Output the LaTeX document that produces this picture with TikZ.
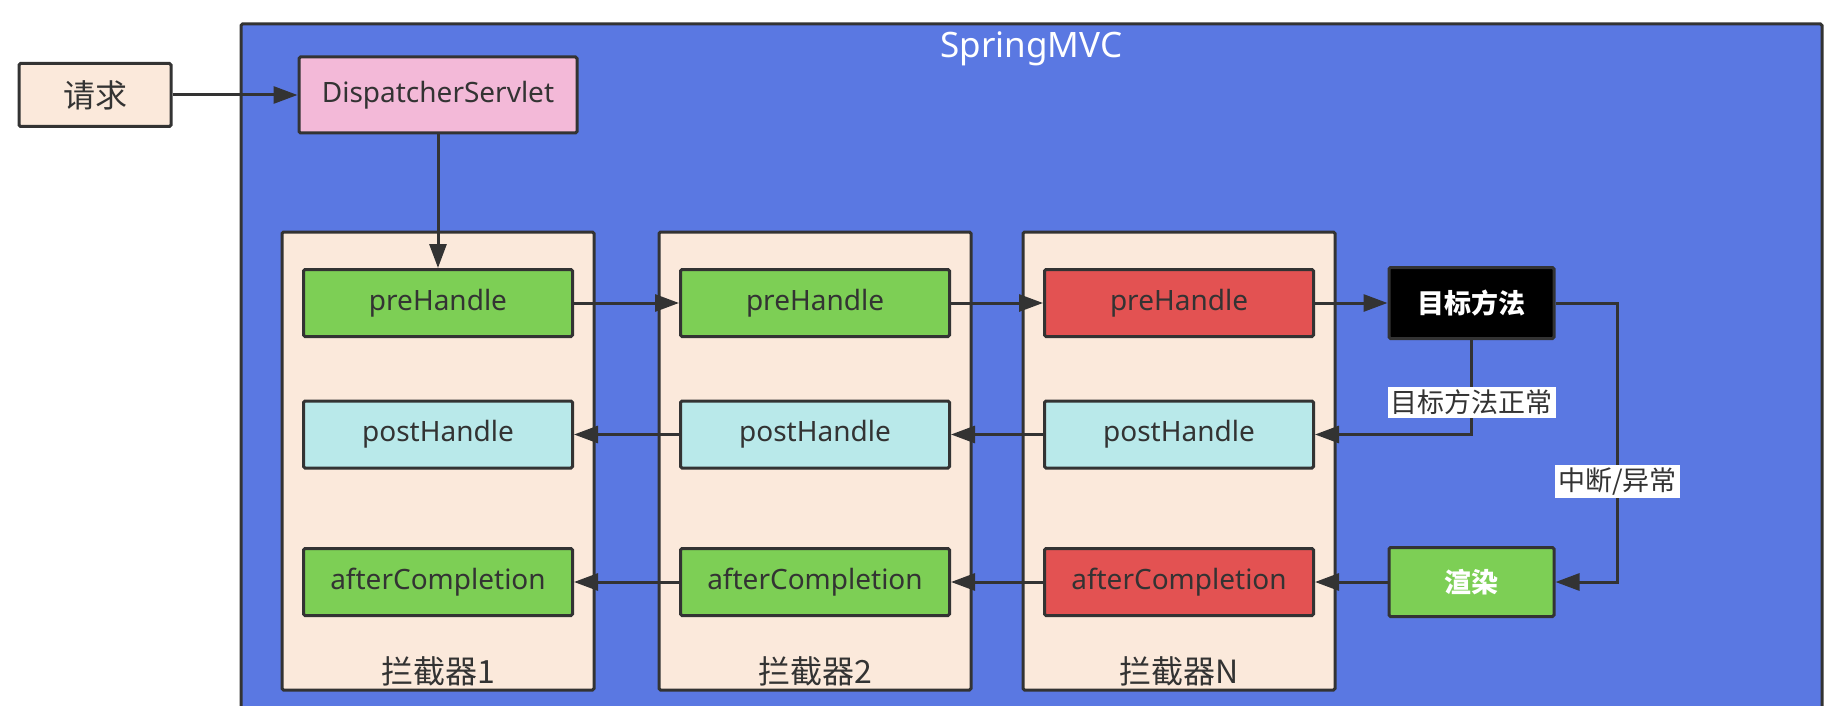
\documentclass[tikz,border=0pt]{standalone}
\usepackage{fontspec}
\setmainfont{Noto Sans}
\newfontfamily\cjk{Noto Sans CJK SC}
\usepackage{tikz}
\usetikzlibrary{arrows.meta,positioning,calc}
\usepackage{xcolor}
\definecolor{mvcblue}{HTML}{5A78E2}
\definecolor{reqcream}{HTML}{FBE9DB}
\definecolor{dspink}{HTML}{F3B9D8}
\definecolor{hgreen}{HTML}{7DCF55}
\definecolor{hred}{HTML}{E35252}
\definecolor{hcyan}{HTML}{B9E9EA}
\definecolor{linegray}{HTML}{333333}

\begin{document}
\begin{tikzpicture}
[x=1pt,y=-1pt,
 base/.style={draw=linegray,line width=3pt,rounded corners=1.5pt,inner sep=0pt,text=linegray},
 hbox/.style={base,minimum width=269pt,minimum height=67pt,font=\fontsize{28}{32}\selectfont},
 holder/.style={base,fill=reqcream,minimum width=312pt,minimum height=458pt},
 hlabel/.style={text=linegray,font=\cjk\fontsize{32}{36}\selectfont},
 flow/.style={draw=linegray,line width=3pt,-{Triangle[length=24pt,width=17pt]}},
 cond/.style={fill=white,text=linegray,inner sep=3pt,font=\cjk\fontsize{27}{30}\selectfont}]
\useasboundingbox (0,0) rectangle (1832,706);
\draw (1031.5,377) node[base,fill=mvcblue,minimum width=1581pt,minimum height=706pt] (mvc) {};
\node[below=6pt of mvc.north,text=white,font=\fontsize{35}{40}\selectfont] (title) {SpringMVC};
\draw (95,95) node[base,fill=reqcream,minimum width=152pt,minimum height=63pt,font=\cjk\fontsize{32}{36}\selectfont] (req) {请求};
\draw (438,95) node[base,fill=dspink,minimum width=278pt,minimum height=76pt,font=\fontsize{28}{32}\selectfont] (ds) {DispatcherServlet};
% interceptor columns
\draw (438,461) node[holder] (ic1) {};
\draw (815,461) node[holder] (ic2) {};
\draw (1179,461) node[holder] (icN) {};
\node[above=2pt of ic1.south,hlabel] (ic1name) {拦截器1};
\node[above=2pt of ic2.south,hlabel] (ic2name) {拦截器2};
\node[above=2pt of icN.south,hlabel] (icNname) {拦截器N};
\draw (438,303) node[hbox,fill=hgreen] (pre1) {preHandle};
\draw (815,303) node[hbox,fill=hgreen] (pre2) {preHandle};
\draw (1179,303) node[hbox,fill=hred] (preN) {preHandle};
\draw (438,434.5) node[hbox,fill=hcyan] (post1) {postHandle};
\draw (815,434.5) node[hbox,fill=hcyan] (post2) {postHandle};
\draw (1179,434.5) node[hbox,fill=hcyan] (postN) {postHandle};
\draw (438,582) node[hbox,fill=hgreen] (after1) {afterCompletion};
\draw (815,582) node[hbox,fill=hgreen] (after2) {afterCompletion};
\draw (1179,582) node[hbox,fill=hred] (afterN) {afterCompletion};
\draw (1471.5,303) node[base,fill=black,text=white,minimum width=165pt,minimum height=71pt,font=\cjk\bfseries\fontsize{27}{30}\selectfont] (target) {目标方法};
\draw (1471.5,582) node[base,fill=hgreen,text=white,minimum width=165pt,minimum height=69pt,font=\cjk\bfseries\fontsize{27}{30}\selectfont] (render) {渲染};
% connectors
\draw[flow] (req) -- (ds);
\draw[flow] (ds) -- (pre1);
\draw[flow] (pre1) -- (pre2);
\draw[flow] (pre2) -- (preN);
\draw[flow] (preN) -- (target);
\draw[flow] (target.south) |- node[cond,pos=0.33] (okay) {目标方法正常} (postN.east);
\draw[flow] (target.east) -- ++(62,0) |- node[cond,pos=0.32] (fail) {中断/异常} (render.east);
\draw[flow] (postN) -- (post2);
\draw[flow] (post2) -- (post1);
\draw[flow] (render) -- (afterN);
\draw[flow] (afterN) -- (after2);
\draw[flow] (after2) -- (after1);
\end{tikzpicture}
\end{document}
